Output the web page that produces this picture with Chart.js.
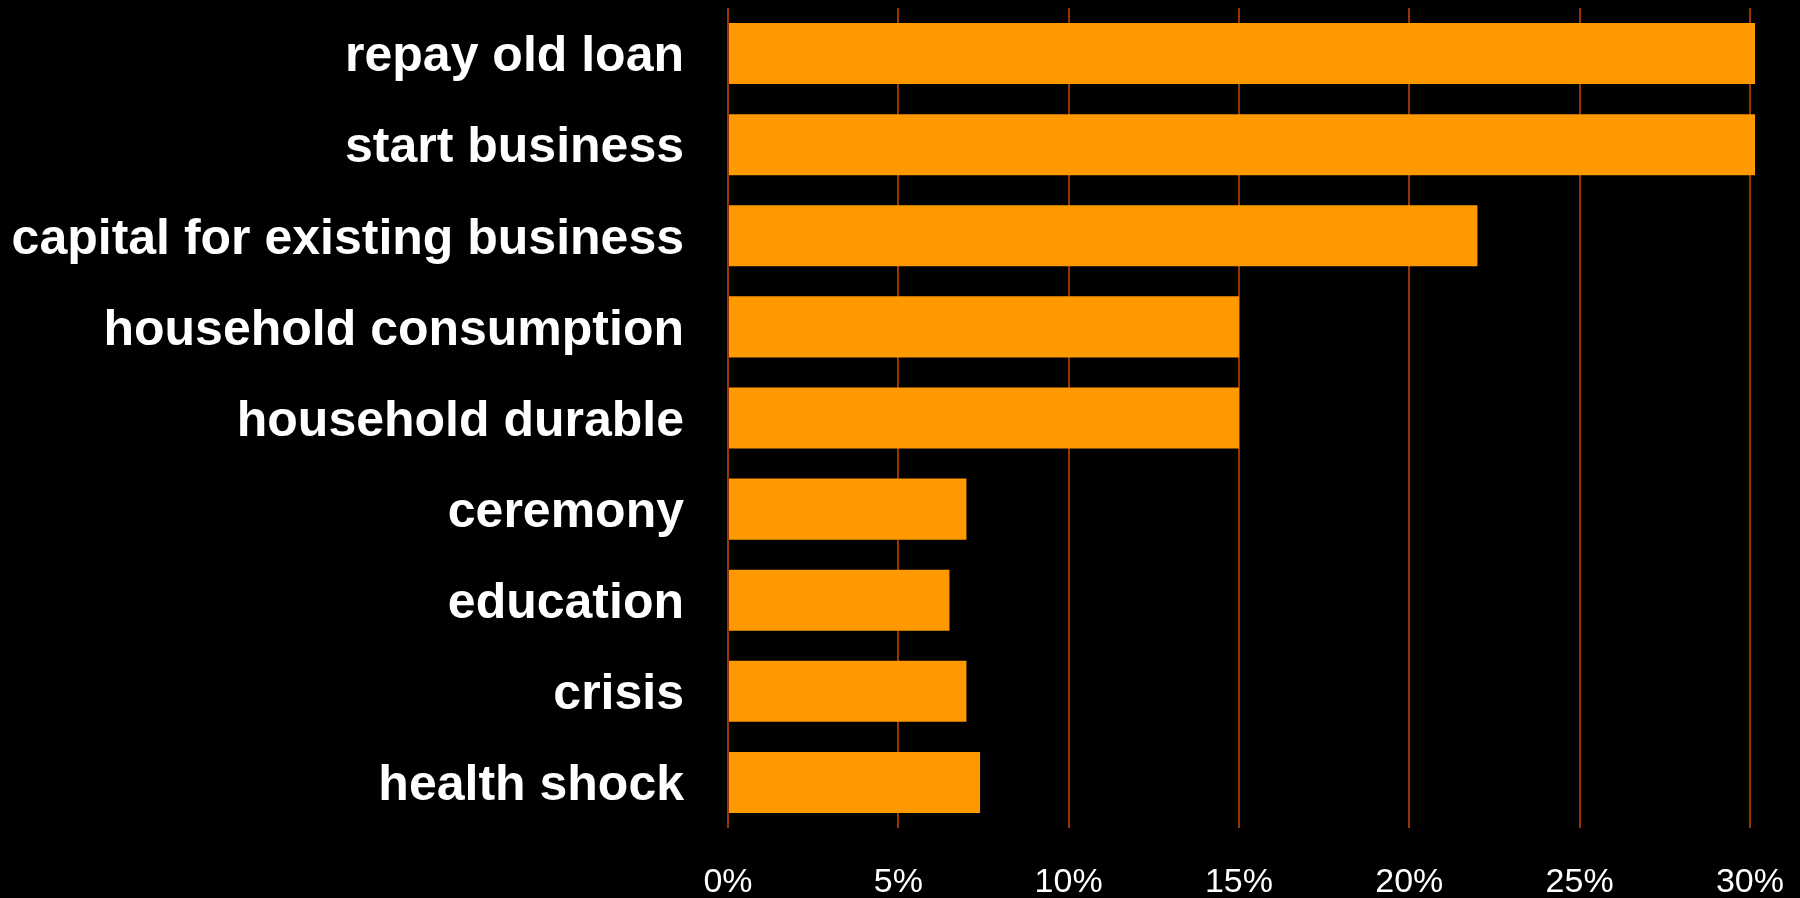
<!DOCTYPE html>
<html>
<head>
<meta charset="utf-8">
<title>Loan use</title>
<script src="https://cdn.jsdelivr.net/npm/chart.js@4/dist/chart.umd.min.js"></script>
<style>
    html, body { margin: 0; padding: 0; background: #000; }
    #wrap { width: 1800px; height: 898px; }
</style>
</head>
<body>
<div id="wrap"><canvas id="useChart"></canvas></div>
<script>
// Reasons given for taking the loan, share of borrowers (%)
var reasons = [
    'repay old loan',
    'start business',
    'capital for existing business',
    'household consumption',
    'household durable',
    'ceremony',
    'education',
    'crisis',
    'health shock'
];
var shares = [30.15, 30.15, 22, 15, 15, 7, 6.5, 7, 7.4];

// Axis ticks along the bottom
var tickValues = [0, 5, 10, 15, 20, 25, 30];
var tickLabels = ['0%', '5%', '10%', '15%', '20%', '25%', '30%'];

(function () {
    'use strict';

    var barColour  = '#ff9900';
    var gridColour = '#993300';
    var fontFamily = '"Liberation Sans", Arial, Helvetica, sans-serif';

    // keep the big labels from pushing the plot area around
    function noPadding(scale) {
        scale.paddingTop = 0;
        scale.paddingBottom = 0;
        scale.paddingLeft = 0;
        scale.paddingRight = 0;
    }

    new Chart(document.getElementById('useChart'), {
        type: 'bar',
        data: {
            labels: reasons,
            datasets: [{
                data: shares,
                backgroundColor: barColour,
                borderWidth: 0,
                categoryPercentage: 1,
                barPercentage: 0.67
            }]
        },
        options: {
            indexAxis: 'y',
            responsive: true,
            maintainAspectRatio: false,
            animation: false,
            layout: { padding: { top: 8, right: 16, bottom: 0, left: 0 } },
            plugins: {
                legend:  { display: false },
                tooltip: { enabled: false }
            },
            scales: {
                x: {
                    min: 0,
                    max: 31,
                    afterBuildTicks: function (scale) {
                        scale.ticks = tickValues.map(function (v) { return { value: v }; });
                    },
                    afterFit: function (scale) {
                        scale.height = 70;
                        noPadding(scale);
                    },
                    border: { display: false },
                    grid: {
                        color: gridColour,
                        lineWidth: 2,
                        drawTicks: false
                    },
                    ticks: {
                        color: '#ffffff',
                        padding: 34,
                        maxRotation: 0,
                        autoSkip: false,
                        font: { family: fontFamily, size: 34 },
                        callback: function (value) {
                            return tickLabels[tickValues.indexOf(value)];
                        }
                    }
                },
                y: {
                    afterFit: function (scale) {
                        scale.width = 728;
                        noPadding(scale);
                    },
                    border: { display: false },
                    grid: { display: false, drawTicks: false },
                    ticks: {
                        color: '#ffffff',
                        padding: 44,
                        labelOffset: 4,
                        autoSkip: false,
                        font: { family: fontFamily, size: 50, weight: 'bold' }
                    }
                }
            }
        }
    });
})();
</script>
</body>
</html>
